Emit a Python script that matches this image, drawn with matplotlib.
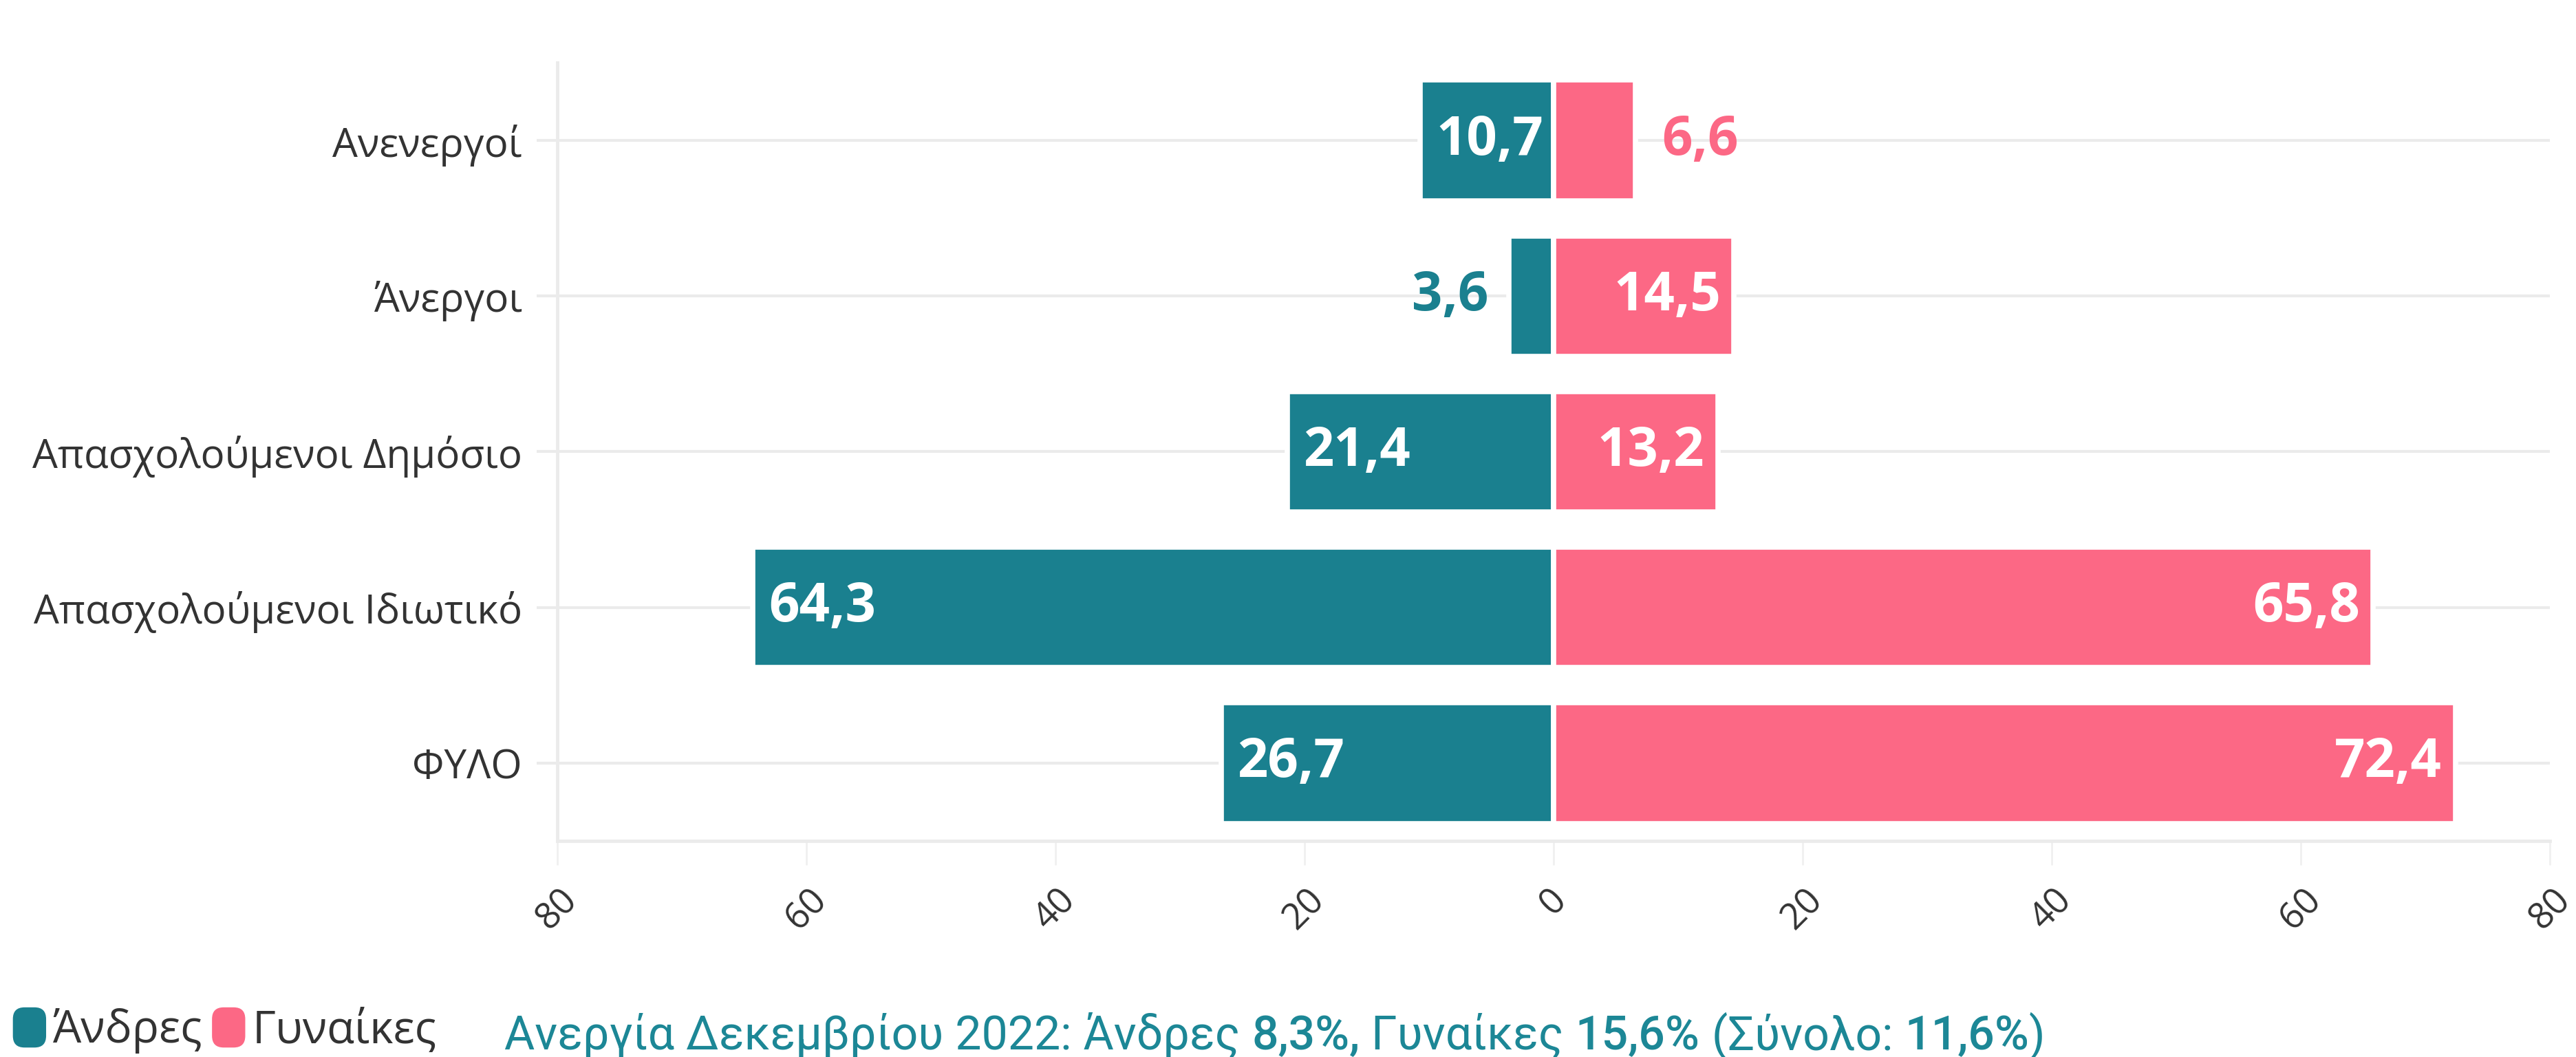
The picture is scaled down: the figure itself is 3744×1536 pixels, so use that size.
import matplotlib
matplotlib.use('Agg')
import matplotlib.pyplot as plt
from matplotlib.patches import Patch, FancyBboxPatch
from matplotlib.legend_handler import HandlerPatch

# ---------------- data ----------------
categories = ['ΦΥΛΟ', 'Απασχολούμενοι Ιδιωτικό', 'Απασχολούμενοι Δημόσιο', 'Άνεργοι', 'Ανενεργοί']
men = [26.7, 64.3, 21.4, 3.6, 10.7]
women = [72.4, 65.8, 13.2, 14.5, 6.6]
series_names = ['Άνδρες', 'Γυναίκες']
xticks = [-80, -60, -40, -20, 0, 20, 40, 60, 80]
xticklabels = ['80', '60', '40', '20', '0', '20', '40', '60', '80']
note_parts = ['Ανεργία Δεκεμβρίου 2022: Άνδρες ', '8,3%,', ' Γυναίκες ', '15,6%', ' (Σύνολο: ', '11,6%', ')']
note_bold = [False, True, False, True, False, True, False]

# ---------------- style ----------------
TEAL = '#1a808f'
PINK = '#fc6885'
NOTE = '#1c8796'
GRID = '#ebebeb'
DARK = '#333333'
FONT = ['Open Sans', 'DejaVu Sans']

W, H, DPI = 37.44, 15.36, 100
fig = plt.figure(figsize=(W, H), dpi=DPI)
fig.patch.set_facecolor('white')
ax = fig.add_axes([0.2163, 0.2044, 0.7736, 0.7364])

y = list(range(len(categories)))
ax.barh(y, [-v for v in men], height=0.775, color=TEAL, edgecolor='white', linewidth=5.5, zorder=3)
ax.barh(y, women, height=0.775, color=PINK, edgecolor='white', linewidth=5.5, zorder=3)

ax.set_xlim(-80, 80)
ax.set_ylim(-0.5, len(categories) - 0.5)

def fmt(v):
    return f'{v:.1f}'.replace('.', ',')

LBL = dict(fontsize=56, fontweight='bold', family=FONT, va='center', zorder=5)
for i, v in enumerate(men):
    if v >= 8:
        ax.annotate(fmt(v), xy=(-v, i), xytext=(17, 0), textcoords='offset points',
                    ha='left', color='white', **LBL)
    else:
        ax.annotate(fmt(v), xy=(-v, i), xytext=(-21, 0), textcoords='offset points',
                    ha='right', color=TEAL, **LBL)
for i, v in enumerate(women):
    if v >= 8:
        ax.annotate(fmt(v), xy=(v, i), xytext=(-14, 0), textcoords='offset points',
                    ha='right', color='white', **LBL)
    else:
        ax.annotate(fmt(v), xy=(v, i), xytext=(27, 0), textcoords='offset points',
                    ha='left', color=PINK, **LBL)

# axes cosmetics
ax.set_yticks(y)
ax.set_yticklabels(categories, family=FONT, fontsize=42, color=DARK)
ax.set_xticks(xticks)
ax.set_xticklabels(xticklabels, family=FONT, fontsize=38, color=DARK, rotation=45, ha='center')
ax.tick_params(axis='y', length=21.6, width=3, color=GRID, pad=15)
ax.tick_params(axis='x', length=25, width=2, color='#f0f0f0', pad=18)
ax.yaxis.grid(True, color=GRID, linewidth=3, zorder=0)
ax.xaxis.grid(False)
ax.set_axisbelow(True)
for s in ['top', 'right']:
    ax.spines[s].set_visible(False)
for s in ['left', 'bottom']:
    ax.spines[s].set_color(GRID)
    ax.spines[s].set_linewidth(3.5)

# legend with rounded swatches
def rounded(legend, orig_handle, xdescent, ydescent, width, height, fontsize):
    return FancyBboxPatch((-xdescent, -ydescent), width, height,
                          boxstyle=f'round,pad=0,rounding_size={width * 0.35}')

handles = [Patch(facecolor=TEAL, edgecolor='none'), Patch(facecolor=PINK, edgecolor='none')]
leg = fig.legend(handles, series_names, loc='lower left', bbox_to_anchor=(0.005, 0.003),
                 ncol=2, frameon=False, prop={'family': FONT, 'size': 47},
                 handlelength=0.74, handleheight=1.0, handletextpad=0.16,
                 columnspacing=0.2, borderpad=0, borderaxespad=0,
                 handler_map={Patch: HandlerPatch(patch_func=rounded)})
for t in leg.get_texts():
    t.set_color(DARK)

# note text, pieces placed one after another
fig.canvas.draw()
renderer = fig.canvas.get_renderer()
x_px = 733
y_base = (H * DPI - 1525) / (H * DPI)
for part, b in zip(note_parts, note_bold):
    t = fig.text(x_px / (W * DPI), y_base, part, color=NOTE, fontsize=49,
                 family=['Roboto', 'DejaVu Sans'], fontweight='medium' if b else 'normal',
                 va='baseline', ha='left')
    bb = t.get_window_extent(renderer=renderer)
    x_px = bb.x1

fig.savefig('out.png', dpi=DPI, facecolor='white')
